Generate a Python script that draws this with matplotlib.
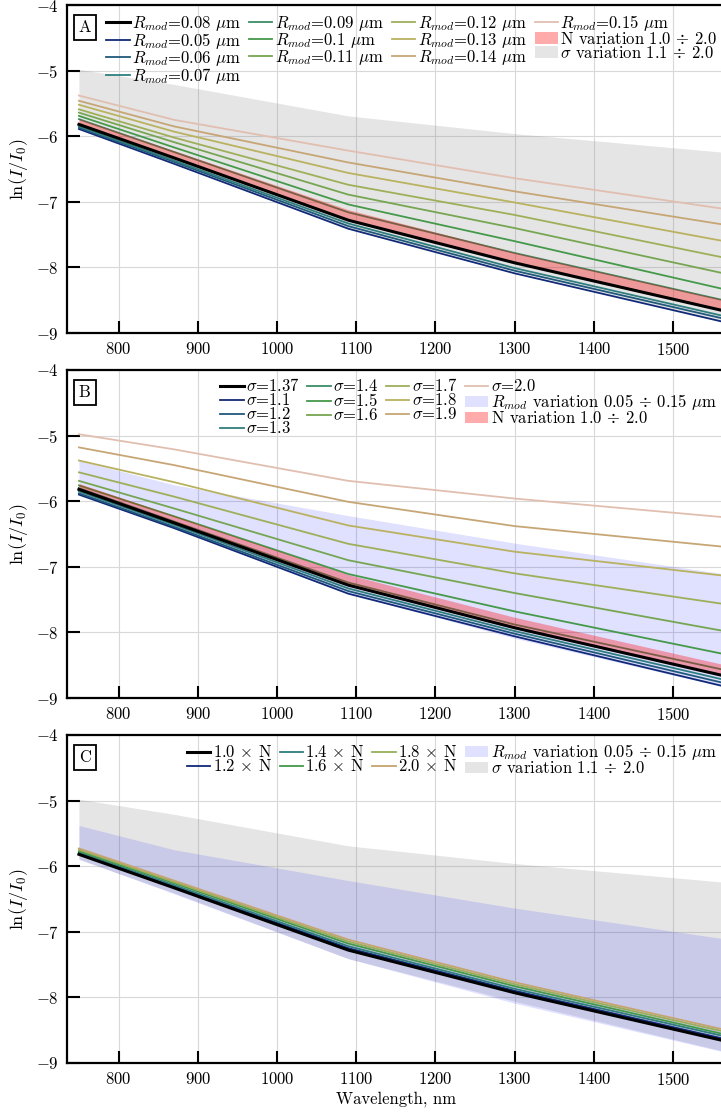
import numpy as np
import matplotlib
matplotlib.use("Agg")
import matplotlib.pyplot as plt

plt.rcParams['font.family'] = 'serif'
plt.rcParams['font.serif'] = ['cmr10']
plt.rcParams['mathtext.fontset'] = 'cm'
plt.rcParams['axes.formatter.use_mathtext'] = True

# wavelengths where the model was evaluated
wl = [750, 870, 1090, 1300, 1560]

# reference curve: R_mod=0.08 um, sigma=1.37, N=1.0
base = [-5.82, -6.33, -7.28, -7.93, -8.65]

# panel A: R_mod scan
r_vals = [0.05, 0.06, 0.07, 0.09, 0.1, 0.11, 0.12, 0.13, 0.14, 0.15]
r_curves = [
    [-5.89, -6.42, -7.41, -8.09, -8.82],
    [-5.87, -6.39, -7.37, -8.05, -8.77],
    [-5.85, -6.37, -7.33, -8.01, -8.73],
    [-5.74, -6.24, -7.16, -7.78, -8.49],
    [-5.69, -6.17, -7.04, -7.60, -8.32],
    [-5.64, -6.09, -6.89, -7.40, -8.08],
    [-5.59, -6.02, -6.74, -7.20, -7.84],
    [-5.52, -5.93, -6.56, -7.01, -7.59],
    [-5.46, -5.85, -6.40, -6.84, -7.34],
    [-5.38, -5.75, -6.22, -6.64, -7.10],
]

# panel B: sigma scan
s_vals = [1.1, 1.2, 1.3, 1.4, 1.5, 1.6, 1.7, 1.8, 1.9, 2.0]
s_curves = [
    [-5.90, -6.41, -7.41, -8.06, -8.81],
    [-5.88, -6.39, -7.37, -8.02, -8.76],
    [-5.85, -6.36, -7.33, -7.98, -8.71],
    [-5.80, -6.31, -7.24, -7.88, -8.56],
    [-5.76, -6.23, -7.11, -7.68, -8.32],
    [-5.69, -6.11, -6.90, -7.40, -7.97],
    [-5.56, -5.93, -6.65, -7.10, -7.56],
    [-5.38, -5.71, -6.37, -6.77, -7.13],
    [-5.18, -5.45, -6.01, -6.38, -6.69],
    [-4.98, -5.21, -5.69, -5.96, -6.24],
]

# panel C: N scan
n_vals = [1.2, 1.4, 1.6, 1.8, 2.0]
n_curves = [
    [-5.80, -6.31, -7.25, -7.90, -8.62],
    [-5.79, -6.29, -7.22, -7.87, -8.58],
    [-5.77, -6.26, -7.18, -7.83, -8.55],
    [-5.75, -6.24, -7.15, -7.80, -8.51],
    [-5.73, -6.22, -7.12, -7.77, -8.48],
]

cmap = plt.get_cmap('gist_earth')
col10 = cmap(np.linspace(0.1, 0.9, 10))
col5 = cmap(np.linspace(0.1, 0.8, 5))

red_kw = dict(color='red', alpha=0.33, lw=0)
blue_kw = dict(color='blue', alpha=0.12, lw=0)
gray_kw = dict(color='gray', alpha=0.2, lw=0)

fig = plt.figure(figsize=(7.21, 11.12), dpi=100)
boxes = [[0.093, 0.7005, 0.912, 0.2950],
         [0.093, 0.3723, 0.912, 0.2950],
         [0.093, 0.0441, 0.912, 0.2950]]
axes = [fig.add_axes(b) for b in boxes]


def style(ax, letter):
    ax.set_xlim(735, 1565)
    ax.set_ylim(-9, -4)
    ax.set_xticks([800, 900, 1000, 1100, 1200, 1300, 1400, 1500])
    ax.set_yticks([-9, -8, -7, -6, -5, -4])
    ax.grid(True, color='#d8d8d8', lw=0.8)
    ax.set_axisbelow(True)
    for s in ['left', 'bottom', 'top']:
        ax.spines[s].set_linewidth(1.6)
    ax.spines['right'].set_visible(False)
    ax.tick_params(direction='in', length=9, width=1.5, labelsize=12, pad=6)
    ax.set_ylabel(r'$\ln(I/I_0)$', fontsize=13, labelpad=4)
    ax.text(0.018, 0.955, letter, transform=ax.transAxes, fontsize=12,
            va='top', ha='left',
            bbox=dict(boxstyle='square,pad=0.3', fc='white', ec='black', lw=1.3))


leg_kw = dict(loc='upper right', ncol=4, frameon=False, fontsize=12,
              labelspacing=-0.12, handlelength=1.4, handletextpad=0.15,
              columnspacing=0.45, borderaxespad=0.05)

# A
ax = axes[0]
ax.plot(wl, base, color='black', lw=2.2, label=r'$R_{mod}$=0.08 $\mu$m', zorder=4)
for v, c, y in zip(r_vals, col10, r_curves):
    ax.plot(wl, y, color=c, lw=1.3, label=r'$R_{mod}$=%g $\mu$m' % v, zorder=3)
ax.fill_between(wl, base, n_curves[-1], label=r'N variation 1.0 $\div$ 2.0', zorder=3.5, **red_kw)
ax.fill_between(wl, s_curves[0], s_curves[-1], label=r'$\sigma$ variation 1.1 $\div$ 2.0', zorder=1, **gray_kw)
style(ax, 'A')
ax.legend(**leg_kw)

# B
ax = axes[1]
ax.plot(wl, base, color='black', lw=2.2, label=r'$\sigma$=1.37', zorder=4)
for v, c, y in zip(s_vals, col10, s_curves):
    ax.plot(wl, y, color=c, lw=1.3, label=r'$\sigma$=%.1f' % v, zorder=3)
ax.fill_between(wl, r_curves[0], r_curves[-1], label=r'$R_{mod}$ variation 0.05 $\div$ 0.15 $\mu$m', zorder=1, **blue_kw)
ax.fill_between(wl, base, n_curves[-1], label=r'N variation 1.0 $\div$ 2.0', zorder=3.5, **red_kw)
style(ax, 'B')
ax.legend(**leg_kw)

# C
ax = axes[2]
ax.plot(wl, base, color='black', lw=2.2, label=r'1.0 $\times$ N', zorder=4)
for v, c, y in zip(n_vals, col5, n_curves):
    ax.plot(wl, y, color=c, lw=1.3, label=r'%.1f $\times$ N' % v, zorder=3)
ax.fill_between(wl, r_curves[0], r_curves[-1], label=r'$R_{mod}$ variation 0.05 $\div$ 0.15 $\mu$m', zorder=2, **blue_kw)
ax.fill_between(wl, s_curves[0], s_curves[-1], label=r'$\sigma$ variation 1.1 $\div$ 2.0', zorder=1, **gray_kw)
style(ax, 'C')
ax.set_xlabel('Wavelength, nm', fontsize=12, labelpad=2)
ax.legend(**leg_kw)

fig.savefig('out.png', dpi=100)
